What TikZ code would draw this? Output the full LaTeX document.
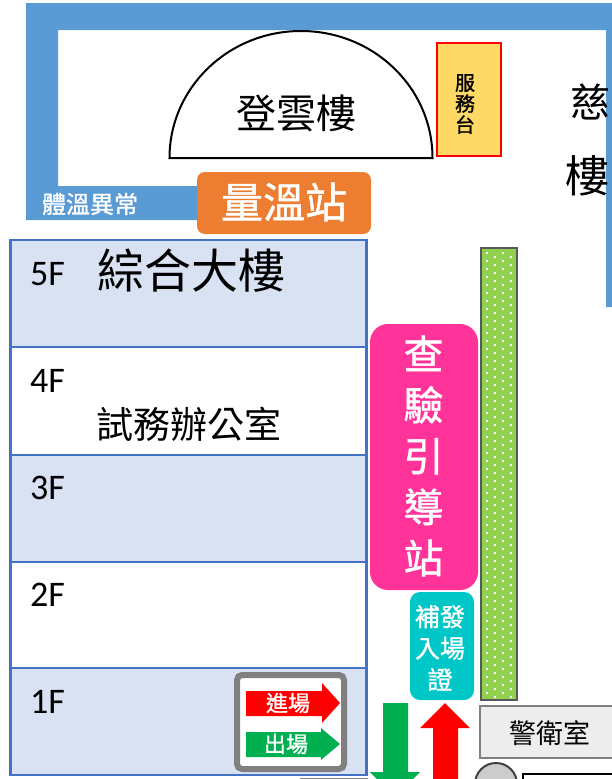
\documentclass[tikz,border=0pt]{standalone}
\usepackage{fontspec}
\setmainfont{Carlito}
\newfontfamily\cjk{Noto Sans CJK TC}
\newfontfamily\cjkm[FakeBold=1.2]{Noto Sans CJK TC}
\definecolor{framec}{HTML}{5B9BD5}
\definecolor{floorc}{HTML}{4472C4}
\definecolor{floorf}{HTML}{D9E2F3}
\definecolor{tempc}{HTML}{ED7D31}
\definecolor{pinkc}{HTML}{FF3399}
\definecolor{cyanc}{HTML}{00C7C7}
\definecolor{leafc}{HTML}{92D050}
\definecolor{deskc}{HTML}{FFD966}
\definecolor{goc}{HTML}{00B050}
\tikzset{
  floorbox/.style={draw=floorc,line width=2.5pt,minimum width=356pt,inner sep=0pt},
  station/.style={rounded corners=#1,inner sep=0pt},
  whitetext/.style={text=white,align=center,inner sep=0pt}
}
\begin{document}
\begin{tikzpicture}[x=1pt,y=-1pt,font=\cjk]
      \clip (0,0) rectangle (612,779);
      \fill[framec] (26,3) -- (612,3) -- (612,307) -- (606,307) -- (606,30) -- (58,30)
        -- (58,186) -- (200,186) -- (200,220) -- (26,220) -- cycle;
      \draw[line width=2pt,fill=white] (169.5,158) arc[start angle=180,end angle=0,x radius=131.5,y radius=-127] -- cycle;
      \draw
        (296,113) node[font=\cjk\fontsize{40}{40}\selectfont] (dengyun){登雲樓}
        (468.5,99) node[draw=red,line width=2pt,fill=deskc,minimum width=64pt,minimum height=113pt] (desk){}
        (465,104) node[align=center,inner sep=0pt,font=\cjkm\fontsize{20}{21}\selectfont] (desktext){服\\務\\台}
        (590,102) node[font=\cjk\fontsize{40}{40}\selectfont] (ci){慈}
        (587,176) node[font=\cjk\fontsize{44}{44}\selectfont] (cilou){樓}
        (90,204) node[text=white,font=\cjkm\fontsize{24}{24}\selectfont] (fever){體溫異常}
        (284,203) node[station=8pt,fill=tempc,minimum width=174pt,minimum height=62pt] (temp){}
        (284,202) node[whitetext,font=\cjkm\fontsize{42}{42}\selectfont] (temptext){量溫站};
      % floors
      \begin{scope}[every node/.append style={floorbox}]
        \draw
          (188.5,293.5) node[fill=floorf,minimum height=107pt] (f5){}
          (188.5,401) node[fill=white,minimum height=108pt] (f4){}
          (188.5,508.5) node[fill=floorf,minimum height=107pt] (f3){}
          (188.5,615) node[fill=white,minimum height=106pt] (f2){}
          (188.5,721.5) node[fill=floorf,minimum height=107pt] (f1){};
      \end{scope}
      \begin{scope}[every node/.append style={font=\fontsize{36}{36}\selectfont,anchor=west,inner sep=0pt}]
        \draw
          (30,274) node (l5){5F}
          (30,381) node (l4){4F}
          (30,488) node (l3){3F}
          (30,595) node (l2){2F}
          (30,702) node (l1){1F};
      \end{scope}
      \draw
        (97,271) node[anchor=west,inner sep=0pt,font=\cjk\fontsize{47}{47}\selectfont] (main){綜合大樓}
        (96,424) node[anchor=west,inner sep=0pt,font=\cjk\fontsize{37}{37}\selectfont] (office){試務辦公室};
      % legend
      \draw[draw=black!50,line width=6pt,fill=white,rounded corners=5pt] (237,675) rectangle (344,769);
      \fill[red] (246,691) -- (322,691) -- (322,683) -- (340,703) -- (322,723) -- (322,716) -- (246,716) -- cycle;
      \fill[goc] (246,732) -- (321,732) -- (321,728) -- (340,744) -- (321,760) -- (321,757) -- (246,757) -- cycle;
      \draw
        (288,703) node[whitetext,font=\cjkm\fontsize{22}{22}\selectfont] (enter){進場}
        (286,744) node[whitetext,font=\cjkm\fontsize{22}{22}\selectfont] (leave){出場};
      % stations
      \draw
        (424,457) node[station=18pt,fill=pinkc,minimum width=108pt,minimum height=266pt] (check){}
        (423.5,456) node[whitetext,font=\cjkm\fontsize{40}{51}\selectfont] (checktext){查\\驗\\引\\導\\站}
        (442,646) node[station=10pt,fill=cyanc,minimum width=64pt,minimum height=108pt] (reissue){}
        (440,648) node[whitetext,font=\cjkm\fontsize{25}{31.5}\selectfont] (reissuetext){補發\\入場\\證};
      % hedge
      \fill[leafc] (481,248) rectangle (517,700);
      \foreach \row in {0,...,112} {
        \pgfmathsetmacro{\off}{mod(\row,2)*8}
        \foreach \col in {0,1}
          \fill[white] (486+\off+\col*16,252+\row*4) rectangle ++(2,2);
      }
      \draw[draw=black!65,line width=2.5pt] (481,248) rectangle (517,700);
      % gate
      \draw
        (566,732) node[draw=black!50,line width=2.5pt,fill=black!7,minimum width=172pt,minimum height=52pt,
          inner sep=0pt] (box){}
        (550,733) node[font=\cjk\fontsize{27}{27}\selectfont] (guard){警衛室};
      \draw[draw=black!75,line width=2pt,fill=black!20] (496,784) circle[radius=21];
      \draw[line width=1.5pt,fill=white] (523,774) rectangle (640,800);
      \fill[goc] (383,703) -- (408,703) -- (408,772) -- (420,772) -- (395,797) -- (370,772) -- (383,772) -- cycle;
      \fill[red] (445,703) -- (470,728) -- (458,728) -- (458,790) -- (433,790) -- (433,728) -- (420,728) -- cycle;
      \draw[black!50] (300,778) -- (368,778);
    \end{tikzpicture}
\end{document}
